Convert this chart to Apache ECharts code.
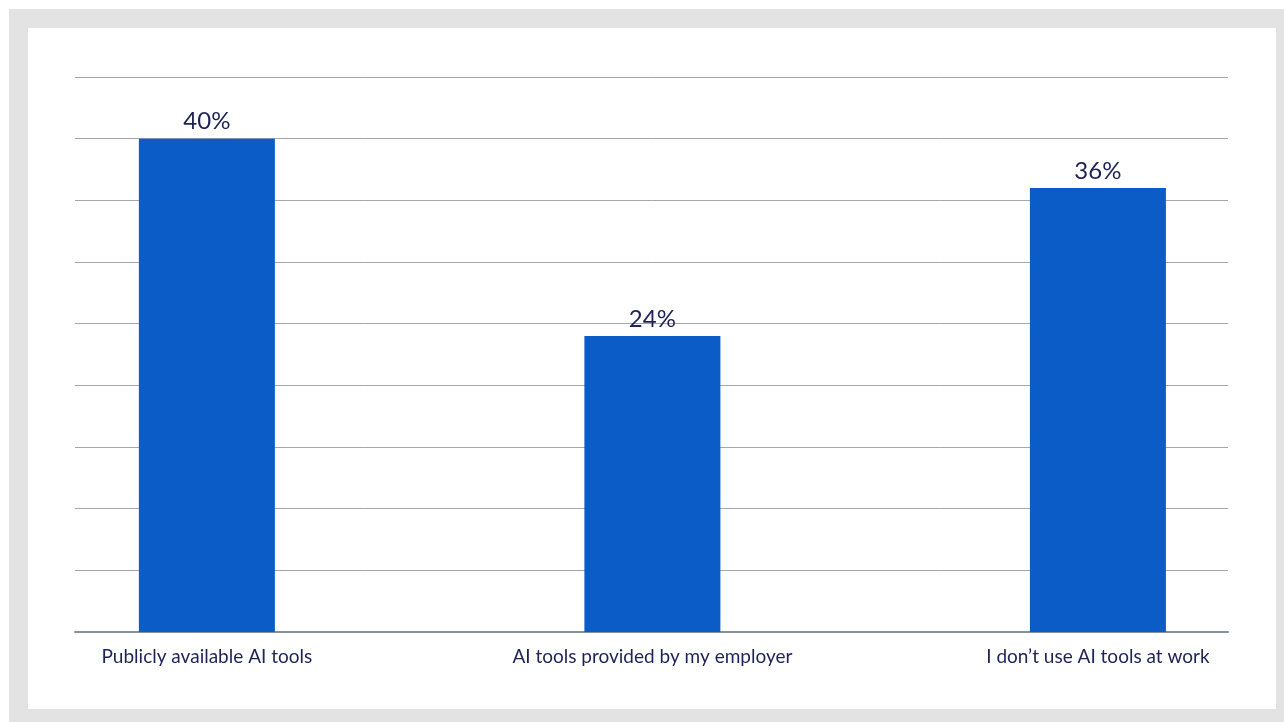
<!DOCTYPE html>
<html>
<head>
<meta charset="utf-8">
<script src="https://cdn.jsdelivr.net/npm/echarts@6/dist/echarts.min.js"></script>
<style>
  html, body { margin: 0; padding: 0; background: #ffffff; }
  #frame { position: absolute; left: 9px; top: 9px; width: 1275px; height: 713px; background: #e3e3e3; }
  #panel { position: absolute; left: 28px; top: 28px; width: 1248px; height: 681px; background: #ffffff; }
  #chart { position: absolute; left: 0; top: 0; width: 1284px; height: 722px; }
</style>
</head>
<body>
<div id="frame"></div>
<div id="panel"></div>
<div id="chart"></div>
<script>
// Where respondents get the AI tools they use at work
const categories = ['Publicly available AI tools', 'AI tools provided by my employer', 'I don\u2019t use AI tools at work'];
const shares = [40, 24, 36];
const yMax = 45;
const yStep = 5;
// slots on the horizontal scale; the bars sit at 0, 1, 2 with uneven margins at the ends
const slots = [0, 1, 2];
const xMin = -0.296;
const xMax = 2.292;

const FONT = 'Lato, "Noto Sans", sans-serif';
const NAVY = '#1f2257';

const chart = echarts.init(document.getElementById('chart'), null, { renderer: 'canvas' });

chart.setOption({
  backgroundColor: 'transparent',
  animation: false,
  grid: { left: 75, right: 56, top: 77, bottom: 90 },
  xAxis: {
    type: 'value', min: xMin, max: xMax,
    axisLine: { show: true, onZero: false, lineStyle: { color: '#87919a', width: 2 } },
    axisTick: { show: false },
    splitLine: { show: false },
    axisLabel: {
      show: true, customValues: slots, margin: 15,
      formatter: v => categories[Math.round(v)] || '',
      color: NAVY, fontFamily: FONT, fontSize: 19,
      showMinLabel: true, showMaxLabel: true
    }
  },
  yAxis: {
    type: 'value', min: 0, max: yMax, interval: yStep,
    axisLine: { show: false }, axisTick: { show: false }, axisLabel: { show: false },
    splitLine: { show: true, lineStyle: { color: '#a4a8ad', width: 1 } }
  },
  series: [
    {
      type: 'bar',
      data: slots.map((s, i) => [s, shares[i]]),
      barWidth: 136,
      itemStyle: { color: '#0b5cc7' },
      label: {
        show: true, position: 'top', distance: 5,
        formatter: p => p.value[1] + '%',
        color: NAVY, fontFamily: FONT, fontSize: 24
      },
      z: 3
    }
  ]
});
</script>
</body>
</html>
